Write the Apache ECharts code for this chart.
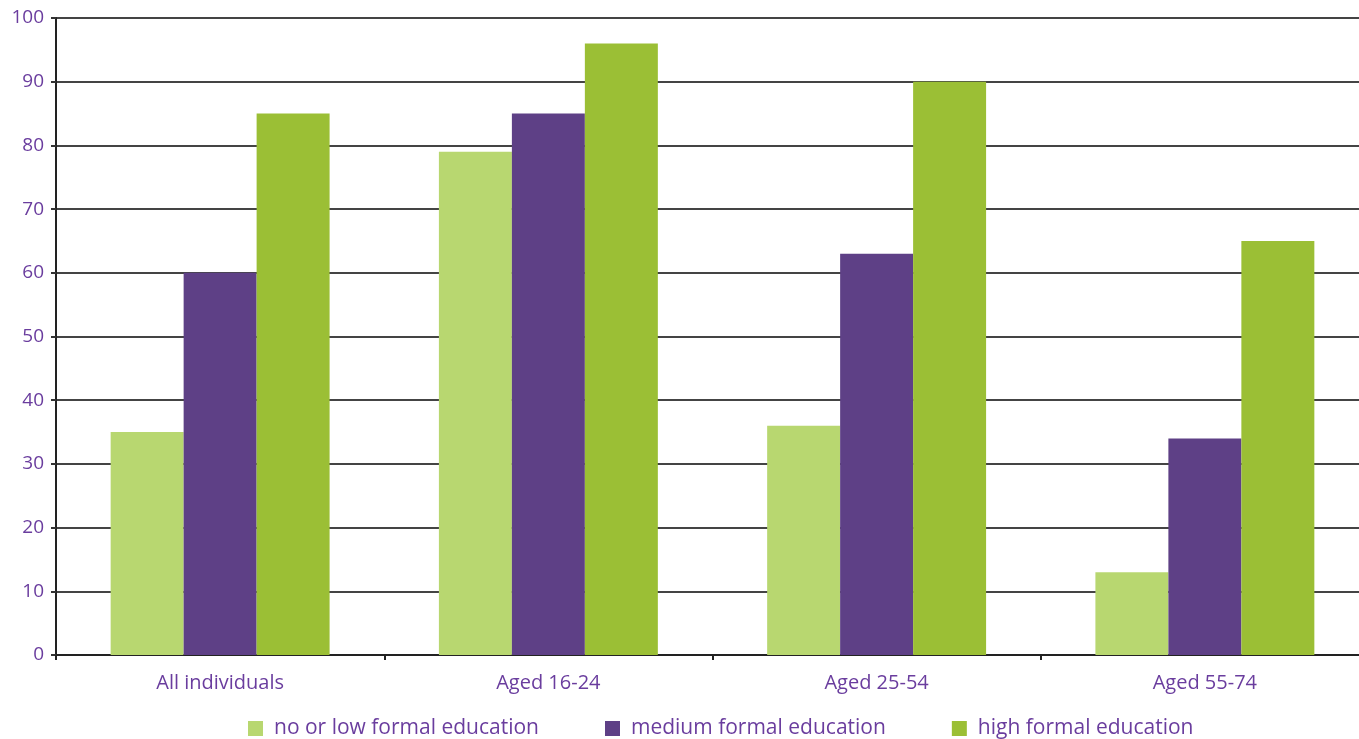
<!DOCTYPE html>
<html>
<head>
<meta charset="utf-8">
<style>
  html, body { margin: 0; padding: 0; background: #ffffff; }
  #chart { width: 1359px; height: 739px; }
</style>
<script src="https://cdn.jsdelivr.net/npm/echarts@6/dist/echarts.min.js"></script>
</head>
<body>
<div id="chart"></div>
<script>
// Age groups along the x axis
const categories = ['All individuals', 'Aged 16-24', 'Aged 25-54', 'Aged 55-74'];

// Share of individuals (%) by level of formal education
const seriesNames = ['no or low formal education', 'medium formal education', 'high formal education'];
const lowEducation = [35, 79, 36, 13];
const mediumEducation = [60, 85, 63, 34];
const highEducation = [85, 96, 90, 65];

const yTicks = { min: 0, max: 100, interval: 10 };

const colors = ['#b8d770', '#5e4086', '#9bbf35'];
const textColor = '#6a3d9e';
const fontFamily = '"Open Sans", "Noto Sans", sans-serif';

const chart = echarts.init(document.getElementById('chart'), null, { renderer: 'canvas' });

const values = [lowEducation, mediumEducation, highEducation];

chart.setOption({
  animation: false,
  color: colors,
  // the last category runs slightly past the right edge of the canvas
  grid: { left: 56, width: 1313, top: 18, bottom: 84, containLabel: false, outerBoundsMode: 'none' },
  legend: {
    top: 718,
    left: 248,
    padding: 0,
    itemWidth: 15,
    itemHeight: 15,
    itemGap: 66,
    icon: 'rect',
    textStyle: { color: textColor, fontSize: 21, fontFamily: fontFamily, padding: [0, 0, 0, 6] },
    data: seriesNames
  },
  xAxis: {
    type: 'category',
    data: categories,
    axisLine: { show: true, lineStyle: { color: '#222', width: 2 } },
    axisTick: { show: true, length: 5, alignWithLabel: false, lineStyle: { color: '#222', width: 2 } },
    axisLabel: { color: textColor, fontSize: 20, fontFamily: fontFamily, margin: 18 },
    splitLine: { show: false }
  },
  yAxis: {
    type: 'value',
    min: yTicks.min,
    max: yTicks.max,
    interval: yTicks.interval,
    axisLine: { show: true, lineStyle: { color: '#222', width: 2 } },
    axisTick: { show: true, length: 5, inside: false, lineStyle: { color: '#333', width: 2 } },
    axisLabel: { color: textColor, fontSize: 19, fontFamily: fontFamily, margin: 12 },
    splitLine: { show: true, lineStyle: { color: '#444', width: 2 } }
  },
  series: seriesNames.map((name, i) => ({
    name: name,
    type: 'bar',
    data: values[i],
    barGap: '0%',
    barCategoryGap: '33.3%',
    itemStyle: { color: colors[i] }
  }))
});
</script>
</body>
</html>
